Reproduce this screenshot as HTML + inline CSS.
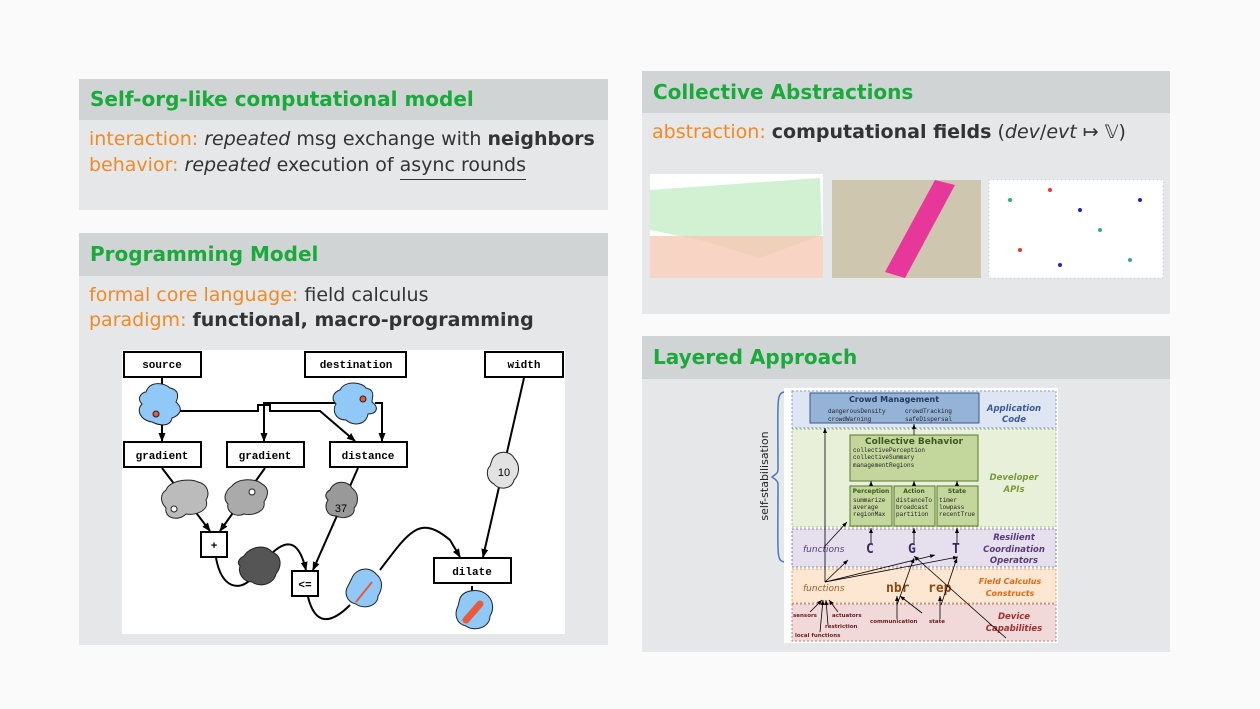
<!DOCTYPE html>
<html><head><meta charset="utf-8"><style>
body{margin:0;width:1260px;height:709px;background:#fafafa;position:relative;overflow:hidden;font-family:"DejaVu Sans","Liberation Sans",sans-serif;color:#333}
.p{position:absolute;background:#e6e7e8}
.h{position:absolute;left:0;right:0;top:0;background:#d1d4d5;color:#1aaa3c;font-weight:bold;font-size:20px;padding-left:11px;box-sizing:border-box}
.t{position:absolute;font-size:19px;white-space:nowrap}
.o{color:#f08a24}
svg{position:absolute;left:0;top:0}
</style></head><body>
<div class="p" style="left:79px;top:79px;width:529px;height:131px">
 <div class="h" style="height:41px;line-height:41px">Self-org-like computational model</div>
 <div class="t" style="left:10px;top:49px"><span class="o">interaction:</span> <i>repeated</i> msg exchange with <b>neighbors</b></div>
 <div class="t" style="left:10px;top:75px"><span class="o">behavior:</span> <i>repeated</i> execution of <span style="border-bottom:1.5px solid #333;padding-bottom:3px">async rounds</span></div>
</div>
<div class="p" style="left:79px;top:233px;width:529px;height:412px">
 <div class="h" style="height:43px;line-height:43px">Programming Model</div>
 <div class="t" style="left:10px;top:51px"><span class="o">formal core language:</span> field calculus</div>
 <div class="t" style="left:10px;top:76px"><span class="o">paradigm:</span> <b>functional, macro-programming</b></div>
 <div style="position:absolute;left:43px;top:117px;width:443px;height:284px;background:#fff"></div>
</div>
<div class="p" style="left:642px;top:71px;width:528px;height:243px">
 <div class="h" style="height:42px;line-height:42px">Collective Abstractions</div>
 <div class="t" style="left:10px;top:50px"><span class="o">abstraction:</span> <b>computational fields</b> (<i>dev</i>/<i>evt</i> ↦ 𝕍)</div>
</div>
<div class="p" style="left:642px;top:336px;width:528px;height:316px">
 <div class="h" style="height:43px;line-height:43px">Layered Approach</div>
 <div style="position:absolute;left:142px;top:52px;width:274px;height:255px;background:#fff"></div>
</div>
<svg width="1260" height="709" viewBox="0 0 1260 709" font-family="Liberation Mono,monospace">
<defs>
<marker id="a" markerUnits="userSpaceOnUse" markerWidth="9" markerHeight="9" refX="8" refY="4.5" orient="auto"><path d="M0,1 L9,4.5 L0,8z" fill="#000"/></marker>
<marker id="b" markerUnits="userSpaceOnUse" markerWidth="5" markerHeight="5" refX="5" refY="2.5" orient="auto"><path d="M0,0.5 L5,2.5 L0,4.5z" fill="#000"/></marker>
</defs>
<!-- images -->
<rect x="650" y="174" width="173" height="104" fill="#fff"/>
<path d="M650,190 L820,178 L822,235 L760,258 L700,240 L650,230z" fill="#bfe9bf" opacity=".7"/>
<rect x="650" y="236" width="173" height="42" fill="#f6c9b5" opacity=".8"/>
<rect x="832" y="180" width="149" height="98" fill="#cfc6b0"/>
<path d="M935,180 L955,185 L905,278 L885,272z" fill="#e8379a"/>
<rect x="989" y="180" width="174" height="98" fill="#fff"/>
<g fill="#3a8"><circle cx="1010" cy="200" r="2"/><circle cx="1100" cy="230" r="2"/><circle cx="1130" cy="260" r="2"/></g>
<g fill="#e33"><circle cx="1050" cy="190" r="2"/><circle cx="1020" cy="250" r="2"/></g>
<g fill="#22c"><circle cx="1080" cy="210" r="2"/><circle cx="1140" cy="200" r="2"/><circle cx="1060" cy="265" r="2"/></g>
<rect x="989" y="180" width="174" height="98" fill="none" stroke="#ccc" stroke-dasharray="1 3"/>
<!-- programming diagram -->
<g stroke="#000" stroke-width="2" fill="none">
<path d="M162,378 V441" marker-end="url(#a)"/>
<path d="M170,411 H258 V405 H270 V411 H320 L355,441" marker-end="url(#a)"/>
<path d="M345,403 H264 V441" marker-end="url(#a)"/>
<path d="M375,403 H382 V441" marker-end="url(#a)"/>
<path d="M162,468 L210,531" marker-end="url(#a)"/>
<path d="M265,468 L220,531" marker-end="url(#a)"/>
<path d="M358,468 L313,570" marker-end="url(#a)"/>
<path d="M216,558 C222,590 240,590 250,580 M270,555 C290,535 300,545 306,570" marker-end="url(#a)"/>
<path d="M308,597 C315,625 330,625 350,605 M380,570 C410,530 420,515 450,540 L460,557" marker-end="url(#a)"/>
<path d="M524,378 L483,557" marker-end="url(#a)"/>
<path d="M472,586 V598"/>
</g>
<g font-size="11" font-weight="bold" text-anchor="middle">
<rect x="124" y="352" width="77" height="25" fill="#fff" stroke="#000" stroke-width="2"/><text x="162" y="368">source</text>
<rect x="305" y="352" width="101" height="25" fill="#fff" stroke="#000" stroke-width="2"/><text x="356" y="368">destination</text>
<rect x="485" y="352" width="78" height="25" fill="#fff" stroke="#000" stroke-width="2"/><text x="524" y="368">width</text>
<rect x="124" y="442" width="77" height="25" fill="#fff" stroke="#000" stroke-width="2"/><text x="162" y="459">gradient</text>
<rect x="227" y="442" width="77" height="25" fill="#fff" stroke="#000" stroke-width="2"/><text x="265" y="459">gradient</text>
<rect x="330" y="442" width="77" height="25" fill="#fff" stroke="#000" stroke-width="2"/><text x="368" y="459">distance</text>
<rect x="434" y="558" width="77" height="25" fill="#fff" stroke="#000" stroke-width="2"/><text x="472" y="575">dilate</text>
<rect x="201" y="532" width="26" height="25" fill="#fff" stroke="#000" stroke-width="2"/><text x="214" y="549">+</text>
<rect x="292" y="571" width="26" height="25" fill="#fff" stroke="#000" stroke-width="2"/><text x="305" y="588">&lt;=</text>
</g>
<g stroke="#222" stroke-width="1">
<path d="M146,392 C150,380 165,383 170,388 C180,390 178,398 176,402 C185,410 178,416 172,418 C170,428 158,425 152,422 C140,420 136,410 142,404 C136,398 142,392 146,392z" fill="#90c8f8"/><circle cx="156" cy="414" r="3" fill="#e85a3a"/>
<path d="M340,390 C345,380 362,382 366,388 C376,390 372,398 372,402 C380,408 376,414 368,414 C366,426 352,426 346,420 C335,420 332,410 336,404 C330,398 334,392 340,390z" fill="#90c8f8"/><circle cx="363" cy="399" r="3" fill="#e85a3a"/>
<path d="M166,490 C170,480 190,478 198,482 C208,484 210,494 206,500 C210,510 196,516 186,514 C178,522 164,518 166,508 C160,502 160,494 166,490z" fill="#bbb"/><circle cx="174" cy="509" r="3" fill="#fff"/>
<path d="M232,486 C238,478 256,478 262,484 C270,488 268,496 264,502 C266,512 252,516 244,514 C236,518 226,512 228,504 C222,498 226,490 232,486z" fill="#aaa"/><circle cx="252" cy="492" r="3" fill="#fff"/>
<path d="M330,490 C334,480 348,480 352,488 C360,494 358,504 354,508 C356,516 344,520 336,516 C326,516 324,506 328,500 C324,496 326,492 330,490z" fill="#999"/>
<path d="M492,460 C496,450 510,450 514,458 C520,464 520,474 514,480 C512,490 498,490 494,484 C486,480 486,470 490,466z" fill="#e2e2e2"/>
<path d="M244,556 C250,546 266,544 272,552 C282,556 282,566 276,574 C274,584 260,588 252,582 C242,582 238,572 240,566 C236,562 240,558 244,556z" fill="#555"/>
<path d="M352,578 C356,568 370,566 376,574 C384,580 382,590 378,596 C378,606 364,610 356,604 C346,602 344,592 348,586z" fill="#90c8f8"/>
<path d="M460,598 C464,590 478,588 486,594 C494,600 494,610 490,616 C490,628 474,632 466,626 C456,624 454,614 458,606z" fill="#90c8f8"/>
</g>
<text x="341" y="512" font-family="Liberation Sans" font-size="11" text-anchor="middle">37</text>
<text x="504" y="476" font-family="Liberation Sans" font-size="11" text-anchor="middle">10</text>
<path d="M356,602 L372,582" stroke="#e85a3a" stroke-width="2"/>
<path d="M466,620 L480,604" stroke="#e85a3a" stroke-width="7" stroke-linecap="round"/>
<!-- layered -->
<g stroke-dasharray="2 2" stroke-width="1">
<rect x="792" y="391" width="264" height="37" fill="#dde6f2" stroke="#7a9cc8"/>
<rect x="792" y="429" width="264" height="98" fill="#e8f0da" stroke="#9bbb6a"/>
<rect x="792" y="529" width="264" height="38" fill="#e6e0ee" stroke="#8a74a8"/>
<rect x="792" y="569" width="264" height="34" fill="#fde6d2" stroke="#e79a5a"/>
<rect x="792" y="604" width="264" height="37" fill="#f2d9d9" stroke="#c87a7a"/>
</g>
<rect x="810" y="393" width="169" height="30" fill="#95b3d7" stroke="#3c5a8a"/>
<rect x="850" y="435" width="128" height="46" fill="#c3d69b" stroke="#5a7a2a"/>
<rect x="850" y="486" width="42" height="40" fill="#c3d69b" stroke="#5a7a2a"/>
<rect x="894" y="486" width="41" height="40" fill="#c3d69b" stroke="#5a7a2a"/>
<rect x="937" y="486" width="41" height="40" fill="#c3d69b" stroke="#5a7a2a"/>
<g font-family="DejaVu Sans" font-weight="bold" font-size="8" text-anchor="middle">
<text x="894" y="402" fill="#1f3a60">Crowd Management</text>
<text x="914" y="444" fill="#3a5a1a" font-size="9">Collective Behavior</text>
<text x="871" y="493" font-size="6" fill="#3a5a1a">Perception</text><text x="914" y="493" font-size="6" fill="#3a5a1a">Action</text><text x="957" y="493" font-size="6" fill="#3a5a1a">State</text>
<g font-style="italic" font-size="8.5"><text x="1014" y="411" fill="#3c5a9a">Application</text><text x="1014" y="422" fill="#3c5a9a">Code</text>
<text x="1014" y="480" fill="#7a9a3a">Developer</text><text x="1014" y="492" fill="#7a9a3a">APIs</text>
<text x="1014" y="540" fill="#5a3a7a">Resilient</text><text x="1014" y="552" fill="#5a3a7a">Coordination</text><text x="1014" y="563" fill="#5a3a7a">Operators</text>
<text x="1010" y="584" fill="#e06a10" font-size="8">Field Calculus</text><text x="1010" y="596" fill="#e06a10" font-size="8">Constructs</text>
<text x="1014" y="619" fill="#a03030">Device</text><text x="1014" y="631" fill="#a03030">Capabilities</text></g>
</g>
<g font-size="6" fill="#222">
<text x="828" y="413">dangerousDensity</text><text x="905" y="413">crowdTracking</text>
<text x="828" y="421">crowdWarning</text><text x="905" y="421">safeDispersal</text>
<text x="853" y="452">collectivePerception</text><text x="853" y="459">collectiveSummary</text><text x="853" y="467">managementRegions</text>
<text x="853" y="502">summarize</text><text x="853" y="509">average</text><text x="853" y="516">regionMax</text>
<text x="896" y="502">distanceTo</text><text x="896" y="509">broadcast</text><text x="896" y="516">partition</text>
<text x="939" y="502">timer</text><text x="939" y="509">lowpass</text><text x="939" y="516">recentTrue</text>
</g>
<g font-family="DejaVu Sans" font-style="italic" font-size="9"><text x="803" y="552" fill="#5a3a7a">functions</text><text x="803" y="591" fill="#a05a20">functions</text></g>
<g font-family="DejaVu Sans Mono" font-weight="bold" font-size="13"><text x="866" y="553" fill="#3a2a5a">C</text><text x="908" y="553" fill="#3a2a5a">G</text><text x="952" y="553" fill="#3a2a5a">T</text>
<text x="886" y="592" fill="#8a4a10">nbr</text><text x="928" y="592" fill="#8a4a10">rep</text></g>
<g font-family="DejaVu Sans" font-weight="bold" font-size="5.5" fill="#6a1a1a"><text x="793" y="617">sensors</text><text x="832" y="617">actuators</text><text x="825" y="628">restriction</text><text x="795" y="637">local functions</text><text x="870" y="623">communication</text><text x="929" y="623">state</text></g>
<g stroke="#000" stroke-width="0.8" fill="none" marker-end="url(#b)">
<path d="M825,582 V428"/><path d="M825,546 L847,522"/><path d="M825,582 L848,560"/><path d="M825,582 L935,555"/><path d="M825,582 L958,557"/>
<path d="M871,543 V528"/><path d="M914,543 V528"/><path d="M957,543 V528"/><path d="M871,486 V481"/><path d="M914,486 V481"/><path d="M957,486 V481"/><path d="M914,435 V424"/>
<path d="M897,605 L914,558"/><path d="M941,605 L957,558"/><path d="M897,619 V596"/><path d="M940,619 V596"/><path d="M922,613 L900,596"/><path d="M1006,638 L914,556"/>
<path d="M810,612 L822,600"/><path d="M820,632 L823,600"/><path d="M828,625 L826,600"/><path d="M838,612 L829,600"/>
</g>
<path d="M784,392 C776,394 778,400 778,470 C778,474 773,476 772,477 C773,478 778,480 778,484 C778,555 776,560 784,562" stroke="#4a7ab8" stroke-width="1.5" fill="none"/>
<text transform="translate(768,476) rotate(-90)" font-family="DejaVu Sans" font-size="11" text-anchor="middle" fill="#222">self-stabilisation</text>
</svg>
</body></html>
